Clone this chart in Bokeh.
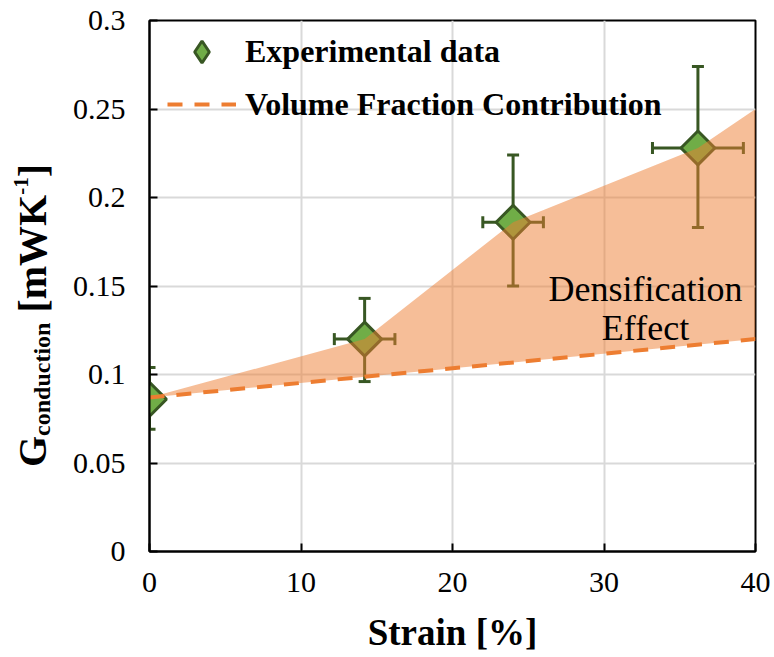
import math
from bokeh.plotting import figure
from bokeh.layouts import row
from bokeh.models import Range1d, Label, Legend, LegendItem, FixedTicker
from bokeh.embed import file_html
from bokeh.resources import INLINE

# ---------------- data ----------------
strain = [0.0, 14.2, 24.0, 36.2]
g_cond = [0.086, 0.120, 0.186, 0.228]
g_err_low = [0.069, 0.096, 0.150, 0.183]
g_err_high = [0.104, 0.143, 0.224, 0.274]
strain_err = [0.0, 2.0, 2.0, 3.0]

vf_strain = [0.0, 40.0]
vf_g = [0.087, 0.120]

dens_strain = [0.0, 14.2, 24.0, 36.2, 40.0]
dens_upper = [0.087, 0.120, 0.186, 0.228, 0.250]

x_ticks = [0, 10, 20, 30, 40]
y_ticks = [0, 0.05, 0.1, 0.15, 0.2, 0.25, 0.3]
y_tick_labels = ["0", "0.05", "0.1", "0.15", "0.2", "0.25", "0.3"]

# ---------------- style ----------------
FONT = "Liberation Serif"
GREEN_FILL = "#70AD47"
GREEN_LINE = "#385723"
ORANGE = "#ED7D31"

W, H = 774, 657
TITLE_W = 67                      # narrow strip holding the rotated y title
LEFT, RIGHT, TOP, BOTTOM = 149, 19, 20, 106
X0, X1 = 0, 40
Y0, Y1 = 0, 0.3
FW = W - LEFT - RIGHT
FH = H - TOP - BOTTOM


def px2x(px):
    return X0 + (px - LEFT) * (X1 - X0) / FW


def py2y(py):
    return Y0 + (H - BOTTOM - py) * (Y1 - Y0) / FH


p = figure(width=W - TITLE_W, height=H, x_range=Range1d(X0, X1), y_range=Range1d(Y0, Y1),
           output_backend="svg", toolbar_location=None,
           min_border_left=LEFT - TITLE_W, min_border_right=RIGHT,
           min_border_top=TOP, min_border_bottom=BOTTOM)
p.outline_line_color = "black"
p.outline_line_width = 2
p.background_fill_color = "white"
p.border_fill_color = "white"

for ax in (p.xaxis[0], p.yaxis[0]):
    ax.axis_line_color = "black"
    ax.axis_line_width = 2
    ax.major_tick_in = 8
    ax.major_tick_out = 0
    ax.major_tick_line_color = "black"
    ax.major_tick_line_width = 2
    ax.minor_tick_line_color = None
    ax.major_label_text_font = FONT
    ax.major_label_text_font_size = "30px"
    ax.major_label_text_color = "black"

p.xaxis.ticker = FixedTicker(ticks=x_ticks)
p.yaxis.ticker = FixedTicker(ticks=y_ticks)
p.yaxis.major_label_overrides = {t: s for t, s in zip(y_ticks, y_tick_labels)}
p.xaxis.major_label_standoff = 21
p.yaxis.major_label_standoff = 24

p.xaxis.axis_label = "Strain [%]"
p.xaxis.axis_label_text_font = FONT
p.xaxis.axis_label_text_font_style = "bold"
p.xaxis.axis_label_text_font_size = "37px"
p.xaxis.axis_label_text_color = "black"
p.xaxis.axis_label_standoff = 17

p.xgrid.ticker = FixedTicker(ticks=x_ticks)
p.ygrid.ticker = FixedTicker(ticks=y_ticks)
p.grid.grid_line_color = "#D9D9D9"
p.grid.grid_line_width = 2

# ---------------- error bars (under the shaded band) ----------------
p.segment(x0=strain, y0=g_err_low, x1=strain, y1=g_err_high,
          line_color=GREEN_LINE, line_width=3)
p.scatter(x=strain + strain, y=g_err_low + g_err_high, marker="dash", size=12,
          line_color=GREEN_LINE, line_width=3)

xe_x = [s for s, e in zip(strain, strain_err) if e > 0]
xe_y = [g for g, e in zip(g_cond, strain_err) if e > 0]
xe_e = [e for e in strain_err if e > 0]
xe_lo = [s - e for s, e in zip(xe_x, xe_e)]
xe_hi = [s + e for s, e in zip(xe_x, xe_e)]
p.segment(x0=xe_lo, y0=xe_y, x1=xe_hi, y1=xe_y, line_color=GREEN_LINE, line_width=3)
p.scatter(x=xe_lo + xe_hi, y=xe_y + xe_y, marker="dash", angle=math.pi / 2, size=12,
          line_color=GREEN_LINE, line_width=3)

# ---------------- data markers ----------------
p.scatter(x=strain, y=g_cond, marker="square", angle=math.pi / 4, size=24,
          fill_color=GREEN_FILL, line_color=GREEN_LINE, line_width=3)
# legend key (diamond glyph, not drawn in the plot itself)
pts_key = p.scatter(x=strain, y=g_cond, marker="diamond", size=24,
                    fill_color=GREEN_FILL, line_color=GREEN_LINE, line_width=3,
                    visible=False)

# ---------------- densification band ----------------
band_x = dens_strain + vf_strain[::-1]
band_y = dens_upper + vf_g[::-1]
p.patch(x=band_x, y=band_y, fill_color=ORANGE, fill_alpha=0.5, line_color=None)

# ---------------- volume fraction line ----------------
vf = p.line(x=vf_strain, y=vf_g, line_color=ORANGE, line_width=4, line_dash="15 12")

# ---------------- legends ----------------
leg1 = Legend(items=[LegendItem(label="Experimental data", renderers=[pts_key])],
              location=(25, 472), orientation="vertical",
              glyph_width=55, glyph_height=55, label_standoff=16,
              padding=0, margin=0, spacing=0,
              background_fill_alpha=0, border_line_alpha=0,
              label_text_font=FONT, label_text_font_style="bold",
              label_text_font_size="32px", label_text_color="black")
leg2 = Legend(items=[LegendItem(label="Volume Fraction Contribution", renderers=[vf])],
              location=(18, 427), orientation="vertical",
              glyph_width=69, glyph_height=40, label_standoff=9,
              padding=0, margin=0, spacing=0,
              background_fill_alpha=0, border_line_alpha=0,
              label_text_font=FONT, label_text_font_style="bold",
              label_text_font_size="32px", label_text_color="black")
p.add_layout(leg1)
p.add_layout(leg2)

# ---------------- annotation text ----------------
for txt, py in (("Densification", 288), ("Effect", 327)):
    p.add_layout(Label(x=px2x(645), y=py2y(py), text=txt, text_align="center",
                       text_baseline="alphabetic", text_font=FONT,
                       text_font_size="36px", text_color="black"))

# ---------------- y axis title strip (rotated, with sub/superscript) ----------------
# the row aligns frames, so give the strip the same top/bottom borders and map
# its data coordinates 1:1 onto page pixels
t = figure(width=TITLE_W, height=H, x_range=Range1d(0, TITLE_W),
           y_range=Range1d(H - BOTTOM, TOP),
           output_backend="svg", toolbar_location=None,
           x_axis_type=None, y_axis_type=None,
           min_border_left=0, min_border_right=0,
           min_border_top=TOP, min_border_bottom=BOTTOM)
t.outline_line_color = None
t.grid.visible = False
t.background_fill_color = "white"
t.border_fill_color = "white"

BW = {"G": 778, "c": 444, "o": 500, "n": 556, "d": 556, "u": 556, "t": 333,
      "i": 278, " ": 250, "[": 333, "m": 833, "W": 1000, "K": 778, "-": 333,
      "1": 500, "]": 333}


def tw(s, size):
    return sum(BW[c] for c in s) * size / 1000.0


# (text, font size, baseline x, gap before the piece); each piece is anchored
# at its own centre so the rotation is symmetric
pieces = [("G", 40, 45, 0), ("conduction", 24, 50, 0), ("[mWK", 40, 45, tw(" ", 40)),
          ("-1", 21, 28, 0), ("]", 40, 45, 0)]
total = sum(tw(s, fs) + g for s, fs, _, g in pieces)
center_py = 315
cur = center_py + total / 2
for s, fs, bx, gap in pieces:
    cur -= gap
    ln = tw(s, fs)
    cx = bx - 0.3375 * fs
    t.add_layout(Label(x=cx, y=cur - ln / 2, text=s, angle=math.pi / 2,
                       text_align="center", text_baseline="middle",
                       text_font=FONT, text_font_style="bold",
                       text_font_size=f"{fs}px", text_color="black"))
    cur -= ln

layout = row(t, p, spacing=0)
open("out.html", "w").write(file_html(layout, INLINE))
